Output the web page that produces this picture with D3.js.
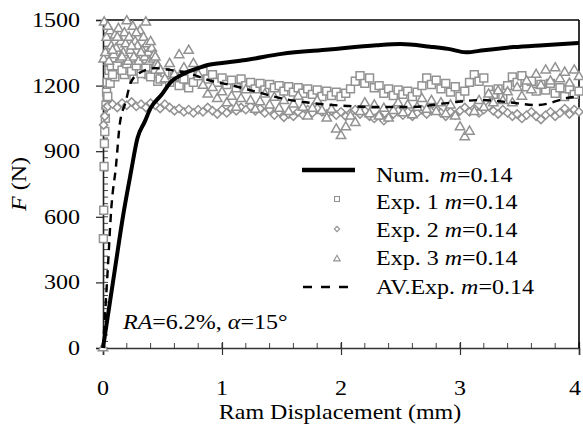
<!DOCTYPE html>
<html><head><meta charset="utf-8">
<script src="https://cdn.jsdelivr.net/npm/d3@7"></script>
<style>
html,body{margin:0;padding:0;background:#fff;}
svg text{font-family:"Liberation Serif","Times New Roman",serif;fill:#000;}
</style></head>
<body><div id="chart"></div>
<script>
// ---------- DATA ----------
const xTicks = [0, 1, 2, 3, 4];
const yTicks = [0, 300, 600, 900, 1200, 1500];

const numX = [0, 0.1, 0.17, 0.235, 0.29, 0.35, 0.4, 0.49, 0.57, 0.69, 0.8, 0.88, 1.0, 1.2, 1.5, 1.9, 2.3, 2.5, 2.75, 2.9, 3.05, 3.2, 3.45, 3.7, 4.0];
const numY = [0, 360, 609, 805, 960, 1034, 1097, 1157, 1216, 1257, 1280, 1294, 1303, 1317, 1345, 1365, 1385, 1390, 1378, 1368, 1352, 1362, 1376, 1385, 1395];

const avX = [0, 0.04, 0.07, 0.11, 0.14, 0.19, 0.235, 0.32, 0.44, 0.57, 0.77, 0.88, 1.07, 1.3, 1.49, 1.76, 2.05, 2.27, 2.6, 2.89, 3.17, 3.39, 3.65, 3.95, 4.0];
const avY = [0, 360, 640, 837, 1020, 1125, 1216, 1262, 1280, 1271, 1248, 1226, 1203, 1170, 1143, 1120, 1107, 1102, 1102, 1120, 1134, 1125, 1111, 1148, 1150];

const expX = [0.04,0.08,0.12,0.16,0.20,0.24,0.28,0.32,0.36,0.40,0.44,0.48,0.52,0.56,0.60,0.64,0.68,0.72,0.76,0.80,
  0.84,0.88,0.92,0.96,1.00,1.04,1.08,1.12,1.16,1.20,1.24,1.28,1.32,1.36,1.40,1.44,1.48,1.52,1.56,1.60,
  1.64,1.68,1.72,1.76,1.80,1.84,1.88,1.92,1.96,2.00,2.04,2.08,2.12,2.16,2.20,2.24,2.28,2.32,2.36,2.40,
  2.44,2.48,2.52,2.56,2.60,2.64,2.68,2.72,2.76,2.80,2.84,2.88,2.92,2.96,3.00,3.04,3.08,3.12,3.16,3.20,
  3.24,3.28,3.32,3.36,3.40,3.44,3.48,3.52,3.56,3.60,3.64,3.68,3.72,3.76,3.80,3.84,3.88,3.92,3.96,4.00];

const exp1StartX = [0.003, 0.006, 0.009, 0.012, 0.015, 0.02, 0.025, 0.03, 0.035,
  0.05, 0.06, 0.07, 0.10, 0.14, 0.18, 0.22, 0.26, 0.30, 0.34, 0.38, 0.42, 0.46, 0.50];
const exp1StartY = [500, 630, 830, 935, 990, 1050, 1110, 1170, 1215,
  1270, 1210, 1290, 1240, 1300, 1250, 1280, 1230, 1300, 1270, 1250, 1280, 1220, 1250];
const exp1Y = [1150,1250,1290,1270,1300,1265,1290,1255,1285,1240,1275,1230,1260,1215,1240,1200,1230,1190,1215,1245,
  1265,1230,1250,1215,1235,1205,1225,1190,1230,1200,1215,1185,1210,1180,1205,1190,1200,1175,1195,1170,
  1190,1165,1185,1160,1180,1150,1175,1155,1170,1150,1165,1185,1220,1245,1210,1235,1190,1200,1165,1185,
  1155,1180,1160,1175,1150,1170,1200,1235,1205,1225,1185,1210,1170,1195,1150,1175,1215,1250,1220,1235,
  1180,1160,1185,1150,1200,1240,1215,1245,1195,1220,1175,1205,1180,1210,1165,1190,1150,1185,1160,1175];

const exp2StartX = [0.005, 0.015, 0.025];
const exp2StartY = [1020, 1060, 1100];
const exp2Y = [1105,1115,1100,1120,1110,1125,1105,1115,1100,1120,1110,1095,1115,1100,1085,1095,1080,1090,1075,1090,
  1080,1100,1085,1070,1090,1075,1095,1085,1100,1090,1105,1085,1095,1075,1090,1065,1080,1055,1070,1060,
  1080,1065,1090,1075,1095,1080,1070,1085,1065,1080,1060,1075,1090,1070,1085,1060,1050,1065,1040,1055,
  1070,1085,1065,1080,1060,1075,1090,1070,1085,1095,1075,1060,1080,1065,1085,1100,1080,1095,1075,1090,
  1105,1085,1070,1090,1075,1060,1070,1050,1065,1080,1060,1045,1065,1080,1060,1075,1095,1070,1090,1080];

const exp3StartX = [0, 0.005, 0.01, 0.02, 0.03, 0.05, 0.06, 0.07, 0.09, 0.10, 0.11, 0.13, 0.14, 0.15, 0.17, 0.18,
  0.19, 0.21, 0.22, 0.23, 0.25, 0.26, 0.27, 0.29, 0.30, 0.31, 0.33, 0.34, 0.35, 0.37, 0.38, 0.39, 0.41, 0.42,
  0.43, 0.45, 0.46];
const exp3StartY = [0, 1320, 1490, 1350, 1420, 1310, 1450, 1380, 1340, 1430, 1370, 1460, 1320, 1400, 1350, 1440,
  1390, 1310, 1420, 1360, 1470, 1330, 1400, 1380, 1310, 1450, 1360, 1420, 1330, 1390, 1350, 1310, 1370, 1320,
  1340, 1300, 1290];
const exp3Y = [1470,1360,1420,1330,1495,1380,1440,1350,1490,1400,1330,1270,1230,1300,1250,1340,1280,1360,1300,1250,
  1200,1160,1190,1140,1170,1120,1150,1100,1140,1180,1130,1090,1125,1160,1110,1145,1095,1130,1080,1115,
  1150,1100,1060,1095,1130,1085,1050,1090,1000,970,1010,1060,1030,1080,1120,1070,1110,1060,1095,1050,
  1085,1120,1075,1110,1065,1100,1140,1090,1130,1080,1120,1070,1110,1060,1010,965,990,1080,1130,1100,
  1160,1120,1175,1130,1170,1120,1190,1150,1220,1180,1250,1200,1270,1220,1280,1230,1260,1210,1270,1240];

const legendLabels = [
  ["Num.", "m", "=0.14"],
  ["Exp. 1 ", "m", "=0.14"],
  ["Exp. 2 ", "m", "=0.14"],
  ["Exp. 3 ", "m", "=0.14"],
  ["AV.Exp. ", "m", "=0.14"]
];

// ---------- CHART ----------
const W = 583, H = 430;
const SX = 1.2; // horizontal text stretch
const markerColor = "#929292";
const svg = d3.select("#chart").append("svg").attr("width", W).attr("height", H);

const x = d3.scaleLinear().domain([0, 4]).range([103, 579]);
const y = d3.scaleLinear().domain([0, 1500]).range([348, 20]);

function pts(xs, ys) { return xs.map((v, i) => [v, ys[i]]); }
const exp1 = pts(exp1StartX, exp1StartY).concat(pts(expX, exp1Y));
const exp2 = pts(exp2StartX, exp2StartY).concat(pts(expX, exp2Y));
const exp3 = pts(exp3StartX, exp3StartY).concat(pts(expX, exp3Y));

function text(px, py, anchor, size) {
  return svg.append("text")
    .attr("transform", `translate(${px},${py}) scale(${SX},1)`)
    .attr("text-anchor", anchor).style("font-size", size + "px");
}

// minor ticks
const yMinor = d3.range(0, 1501, 30);
svg.append("g").selectAll("line").data(yMinor).join("line")
  .attr("x1", x(0)).attr("x2", x(0) + 5).attr("y1", d => y(d)).attr("y2", d => y(d))
  .attr("stroke", "#444").attr("stroke-width", 1);
const xMinor = d3.range(0, 4.001, 0.2);
svg.append("g").selectAll("line").data(xMinor).join("line")
  .attr("x1", d => x(d)).attr("x2", d => x(d)).attr("y1", y(0) - 5).attr("y2", y(0))
  .attr("stroke", "#444").attr("stroke-width", 1);

// axes via d3
const yAxis = svg.append("g").attr("transform", `translate(${x(0)},0)`)
  .call(d3.axisLeft(y).tickValues(yTicks).tickSize(7).tickFormat(""));
yAxis.select(".domain").attr("stroke", "#222").attr("stroke-width", 1.6);
yAxis.selectAll(".tick line").attr("stroke", "#222").attr("stroke-width", 1.2);

const xAxis = svg.append("g").attr("transform", `translate(0,${y(0)})`)
  .call(d3.axisBottom(x).tickValues(xTicks).tickSize(7).tickFormat(""));
xAxis.select(".domain").attr("stroke", "#333").attr("stroke-width", 1.6);
xAxis.selectAll(".tick line").attr("stroke", "#333").attr("stroke-width", 1.2).attr("y1", -6);

// frame top and right
svg.append("line").attr("x1", x(0)).attr("x2", x(4)).attr("y1", y(1500)).attr("y2", y(1500))
  .attr("stroke", "#000").attr("stroke-width", 1.6);
svg.append("line").attr("x1", x(4)).attr("x2", x(4)).attr("y1", y(1500)).attr("y2", y(0))
  .attr("stroke", "#000").attr("stroke-width", 1.6);

// tick labels
yTicks.forEach(v => text(80, y(v) + 7, "end", 20).text(v));
xTicks.forEach(v => text(Math.min(x(v), 575), 395, "middle", 20).text(v));

// axis titles
text(340, 419, "middle", 20).text("Ram Displacement (mm)");
const yt = svg.append("text")
  .attr("transform", `translate(26,184) rotate(-90) scale(${SX},1)`)
  .attr("text-anchor", "middle").style("font-size", "20px");
yt.append("tspan").style("font-style", "italic").text("F");
yt.append("tspan").text(" (N)");

// markers
const sq = d3.symbol().type(d3.symbolSquare).size(62);
const dm = d3.symbol().type(d3.symbolSquare).size(34);
const tr = d3.symbol().type(d3.symbolTriangle).size(38);

function drawMarkers(data, sym, rot) {
  svg.append("g").selectAll("path").data(data).join("path")
    .attr("d", sym).attr("transform", d => `translate(${x(d[0])},${y(d[1])}) rotate(${rot})`)
    .attr("fill", "#fff").attr("stroke", markerColor).attr("stroke-width", 1.5);
}
drawMarkers(exp1, sq, 0);
drawMarkers(exp2, dm, 45);
drawMarkers(exp3, tr, 0);

// lines
const line = d3.line().x(d => x(d[0])).y(d => y(d[1])).curve(d3.curveMonotoneX);
svg.append("path").datum(pts(avX, avY)).attr("d", line)
  .attr("fill", "none").attr("stroke", "#000").attr("stroke-width", 2.4).attr("stroke-dasharray", "8,6");
svg.append("path").datum(pts(numX, numY)).attr("d", line)
  .attr("fill", "none").attr("stroke", "#000").attr("stroke-width", 4);

// legend
const rowsY = [175, 202, 230, 258, 287];
legendLabels.forEach((lab, i) => {
  const t = text(376, rowsY[i] + 7, "start", 20);
  t.append("tspan").text(lab[0]);
  if (i === 0) t.append("tspan").attr("dx", 8).style("font-style", "italic").text(lab[1]);
  else t.append("tspan").style("font-style", "italic").text(lab[1]);
  t.append("tspan").text(lab[2]);
});
svg.append("line").attr("x1", 302).attr("x2", 355).attr("y1", 170).attr("y2", 170)
  .attr("stroke", "#000").attr("stroke-width", 4.5);
svg.append("path").attr("d", d3.symbol().type(d3.symbolSquare).size(24))
  .attr("transform", "translate(337,199)").attr("fill", "#fff").attr("stroke", markerColor).attr("stroke-width", 1.1);
svg.append("path").attr("d", d3.symbol().type(d3.symbolSquare).size(14))
  .attr("transform", "translate(337,229) rotate(45)").attr("fill", "#fff").attr("stroke", markerColor).attr("stroke-width", 1.1);
svg.append("path").attr("d", d3.symbol().type(d3.symbolTriangle).size(18))
  .attr("transform", "translate(337,259)").attr("fill", "#fff").attr("stroke", markerColor).attr("stroke-width", 1.1);
svg.append("line").attr("x1", 303).attr("x2", 350).attr("y1", 287).attr("y2", 287)
  .attr("stroke", "#000").attr("stroke-width", 2.4).attr("stroke-dasharray", "9,9");

// annotation
const an = text(123, 329, "start", 20);
an.append("tspan").style("font-style", "italic").text("RA");
an.append("tspan").text("=6.2%, ");
an.append("tspan").style("font-style", "italic").text("α");
an.append("tspan").text("=15°");
</script></body></html>
